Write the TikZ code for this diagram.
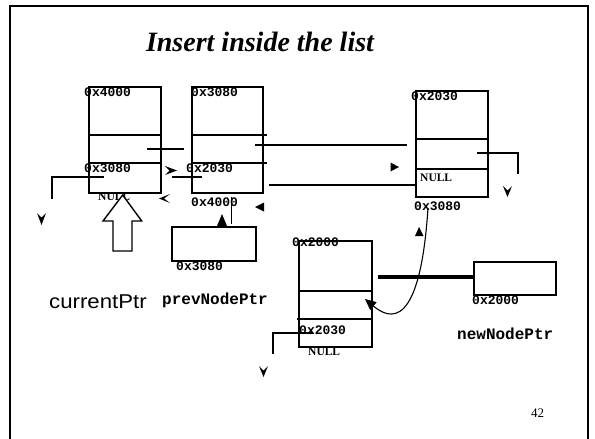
\documentclass[tikz,border=0pt]{standalone}
\usepackage{fontspec}
\setmainfont{Liberation Serif}
\newfontfamily\monofont{Liberation Mono}
\newfontfamily\sansfont{Liberation Sans}
\usetikzlibrary{arrows.meta}
\tikzset{
  box/.style={draw, line width=1.4pt, inner sep=0pt},
  addr/.style={font=\monofont\bfseries\fontsize{13}{13}\selectfont, inner sep=0pt, anchor=west},
  nulltxt/.style={font=\bfseries\fontsize{11.5}{11.5}\selectfont, inner sep=0pt, anchor=west},
  ptrname/.style={font=\monofont\bfseries\fontsize{16}{16}\selectfont, inner sep=0pt, anchor=west},
  ptr/.style={line width=1.4pt},
  tipfill/.style={fill=black, draw=none}
}
\begin{document}
\begin{tikzpicture}[x=1pt,y=-1pt]
\useasboundingbox (0,0) rectangle (595,439);
% frame
\draw[line width=1.2pt] (10,440) -- (10,6) -- (588,6) -- (588,440);
% title
\node[font=\bfseries\itshape\fontsize{28}{28}\selectfont, inner sep=0pt] (title) at (260,42) {Insert inside the list};

% boxes
\node[box, minimum width=72pt, minimum height=106pt] (n1) at (125,140) {};
\node[box, minimum width=71pt, minimum height=106pt] (n2) at (227.5,140) {};
\node[box, minimum width=72pt, minimum height=106pt] (n3) at (452,144) {};
\node[box, minimum width=73pt, minimum height=106pt] (n4) at (335.5,294) {};
\node[box, minimum width=84pt, minimum height=34pt] (pc) at (214,244) {};
\node[box, minimum width=82pt, minimum height=33pt] (pf) at (515,278.5) {};

% dividers
\draw[ptr] (89,135) -- (161,135) (89,163) -- (161,163);
\draw[ptr] (192,135) -- (267,135) (192,163) -- (267,163);
\draw[ptr] (416,139) -- (488,139) (416,169) -- (488,169);
\draw[ptr] (299,291) -- (372,291) (297,319) -- (372,319);

% address labels
\node[addr] (a1) at (84,92) {0x4000};
\node[addr] (a1b) at (84,168) {0x3080};
\node[addr] (a2) at (191,92) {0x3080};
\node[addr] (a2b) at (186,168) {0x2030};
\node[addr] (a2c) at (191,202) {0x4000};
\node[addr] (a3) at (411,96) {0x2030};
\node[addr] (a3c) at (414,206) {0x3080};
\node[addr] (a4) at (292,242) {0x2000};
\node[addr] (a4b) at (299,330) {0x2030};
\node[addr] (ac) at (176,266) {0x3080};
\node[addr] (af) at (472,300) {0x2000};

\node[nulltxt] (null1) at (98,197) {NULL};
\node[nulltxt] (null3) at (420,178) {NULL};
\node[nulltxt] (null4) at (308,352) {NULL};

% names
\node[font=\sansfont\fontsize{20}{20}\selectfont, inner sep=0pt, anchor=west] (cur) at (49,302) {\scalebox{1.11}[1]{currentPtr}};
\node[ptrname] (prevname) at (162,300) {prevNodePtr};
\node[ptrname] (newname) at (457,334) {newNodePtr};
\node[font=\fontsize{13}{13}\selectfont, inner sep=0pt] (pg) at (537.5,413) {42};

% pointer lines
\draw[ptr] (104,177) -- (52,177) -- (52,199);
\draw[ptr] (147,149) -- (184,149);
\draw[ptr] (172,177) -- (202,177);
\draw[ptr] (255,145) -- (407,145);
\draw[ptr] (269,185) -- (416,185);
\draw[ptr] (231.5,197) -- (231.5,224);
\draw[ptr] (477,153) -- (518,153) -- (518,174);
\draw[ptr] (313,333) -- (273,333) -- (273,354);
\draw[line width=4pt] (378,277) -- (pf.west |- 0,277);
\draw[line width=1.1pt, -{Triangle[length=11pt,width=10pt]}] (428,208) .. controls (420,330) and (390,320) .. (365,299);

% detached arrow tips
\fill[tipfill] (41.5,225) -- (37,213) -- (41.5,217.5) -- (46,213) -- cycle;
\fill[tipfill] (507.5,197) -- (503,186) -- (507.5,190.5) -- (512,186) -- cycle;
\fill[tipfill] (263.5,377) -- (259,366) -- (263.5,370.5) -- (268,366) -- cycle;
\fill[tipfill] (177,170.5) -- (165,166) -- (169.5,170.5) -- (165,175) -- cycle;
\fill[tipfill] (159,198.5) -- (170,194) -- (164,198.5) -- (170,203) -- cycle;
\fill[tipfill] (255,207) -- (264,202.5) -- (264,211.5) -- cycle;
\fill[tipfill] (399,167) -- (390.5,162.5) -- (390.5,171.5) -- cycle;
\fill[tipfill] (222,214) -- (217,226) -- (227,226) -- cycle;
\fill[tipfill] (419,227) -- (415,236) -- (423.5,236) -- cycle;

% big hollow arrow
\draw[line width=1.4pt, fill=white] (122.7,195) -- (141.7,221) -- (132,221) -- (132,251) -- (113,251) -- (113,221) -- (103,221) -- cycle;
\end{tikzpicture}
\end{document}
